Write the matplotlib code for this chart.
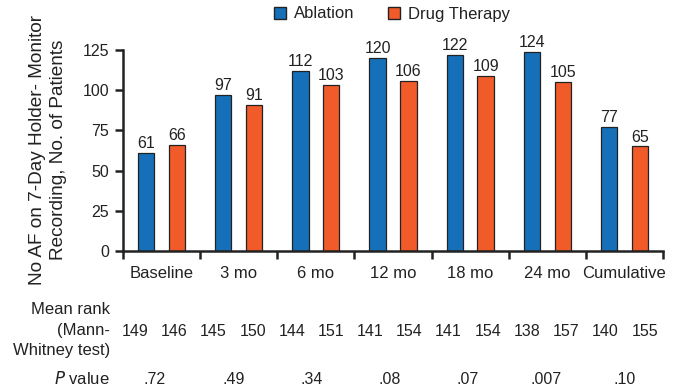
import numpy as np
import matplotlib
matplotlib.use("Agg")
from matplotlib import pyplot as plt
from matplotlib.patches import Patch

plt.rcParams['font.family'] = ['Liberation Sans', 'DejaVu Sans']

categories = ["Baseline", "3 mo", "6 mo", "12 mo", "18 mo", "24 mo", "Cumulative"]
ablation = [61, 97, 112, 120, 122, 124, 77]
drug = [66, 91, 103, 106, 109, 105, 65]
rank_ablation = [149, 145, 144, 141, 141, 138, 140]
rank_drug = [146, 150, 151, 154, 154, 157, 155]
p_values = [".72", ".49", ".34", ".08", ".07", ".007", ".10"]

blue = "#1570b9"
orange = "#f15a29"
edge = "#222222"
ink = "#222222"

W, H = 679, 391
fig = plt.figure(figsize=(W / 100, H / 100), dpi=100)
ax = fig.add_axes([123 / W, 1 - 251 / H, (663 - 123) / W, (251 - 50) / H])

x = np.arange(len(categories))
bw = 0.21
off = 0.2
b1 = ax.bar(x - off, ablation, bw, color=blue, edgecolor=edge, linewidth=0.9)
b2 = ax.bar(x + off, drug, bw, color=orange, edgecolor=edge, linewidth=0.9)
for bars, vals in ((b1, ablation), (b2, drug)):
    for r, v in zip(bars, vals):
        ax.text(r.get_x() + r.get_width() / 2, v + 1.2, str(v), ha="center", va="bottom",
                fontsize=11.5, color=ink, clip_on=False)

ax.set_xlim(-0.5, len(categories) - 0.5)
ax.set_ylim(0, 125)
ax.set_yticks([0, 25, 50, 75, 100, 125])
ax.set_xticks(x)
ax.set_xticklabels(categories)
ax.set_xticks(np.arange(len(categories) + 1) - 0.5, minor=True)
ax.tick_params(axis="x", which="major", length=0, pad=11, labelsize=12, labelcolor=ink)
ax.tick_params(axis="x", which="minor", length=6, width=1.8, direction="out", color=ink)
ax.tick_params(axis="y", length=6, width=1.8, direction="out", pad=4, labelsize=11.5,
               color=ink, labelcolor=ink)
for s in ("top", "right"):
    ax.spines[s].set_visible(False)
for s in ("left", "bottom"):
    ax.spines[s].set_linewidth(1.8)
    ax.spines[s].set_color(ink)

fig.text(48 / W, 1 - 150 / H, "No AF on 7-Day Holder- Monitor\nRecording, No. of Patients",
         rotation=90, ha="center", va="center", multialignment="center",
         fontsize=13.7, color=ink, linespacing=1.35)

handles = [Patch(facecolor=blue, edgecolor=edge, label="Ablation"),
           Patch(facecolor=orange, edgecolor=edge, label="Drug Therapy")]
fig.legend(handles=handles, loc="center", bbox_to_anchor=(392 / W, 1 - 14 / H), ncol=2,
           frameon=False, fontsize=12, handlelength=0.7, handleheight=0.7,
           handletextpad=0.5, columnspacing=2.0, labelcolor=ink)

# table of mean ranks and P values under the axis
lab_x = 110 / W
fig.text(lab_x, 1 - 310 / H, "Mean rank", ha="right", va="center", fontsize=12, color=ink)
fig.text(lab_x, 1 - 331 / H, "(Mann-", ha="right", va="center", fontsize=12, color=ink)
fig.text(lab_x, 1 - 350 / H, "Whitney test)", ha="right", va="center", fontsize=12, color=ink)
fig.text(lab_x, 1 - 379 / H, "$\\it{P}$ value", ha="right", va="center", fontsize=12, color=ink)

ranks = [v for pair in zip(rank_ablation, rank_drug) for v in pair]
for i, r in enumerate(ranks):
    fig.text((135 + 39.2 * i) / W, 1 - 331 / H, str(r), ha="center", va="center",
             fontsize=11.5, color=ink)
for i, p in enumerate(p_values):
    fig.text((155 + 78.2 * i) / W, 1 - 379 / H, p, ha="center", va="center",
             fontsize=11.5, color=ink)

fig.savefig("out.png", dpi=100)
